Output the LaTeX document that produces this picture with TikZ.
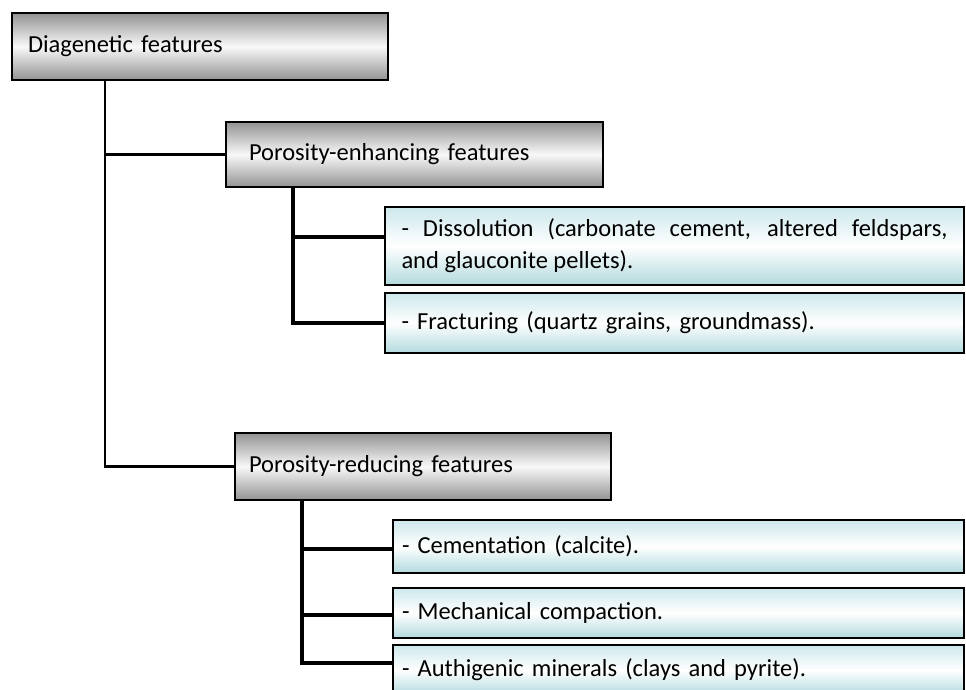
\documentclass[tikz,border=0pt]{standalone}
\usepackage{fontspec}
\setmainfont{Carlito}
\begin{document}
\begin{tikzpicture}[x=1pt,y=-1pt,
  graybox/.style={draw=black,line width=2.5pt,rectangle,inner ysep=0pt,align=left,
    top color=gray!85,bottom color=gray!85,middle color=white!95!gray,font=\fontsize{24.5}{30}\selectfont},
  bluebox/.style={draw=black,line width=2.5pt,rectangle,inner ysep=0pt,align=justify,
    top color={rgb,255:red,205;green,232;blue,236},bottom color={rgb,255:red,178;green,218;blue,222},
    middle color=white,font=\fontsize{24.5}{32}\selectfont},
  thinline/.style={line width=2.2pt},
  thickline/.style={line width=3.5pt}]
\useasboundingbox (0,0) rectangle (966,689);
% top box
\node[graybox,minimum width=376pt,minimum height=67pt,text width=344pt,inner xsep=16pt] (dia) at (200,46.5) {Diagenetic features};
\node[graybox,minimum width=377pt,minimum height=65pt,text width=331pt,inner xsep=23pt] (enh) at (414.5,154.5) {Porosity-enhancing features};
\node[graybox,minimum width=376pt,minimum height=67pt,text width=348pt,inner xsep=14pt] (red) at (423,466.5) {Porosity-reducing features};
% children
\node[bluebox,minimum width=579pt,minimum height=78pt,text width=546pt,inner xsep=16.5pt] (dis) at (674.5,246) {- Dissolution (carbonate cement, altered feldspars,\linebreak and glauconite pellets).};
\node[bluebox,minimum width=579pt,minimum height=60pt,text width=546pt,inner xsep=16.5pt,align=left] (fra) at (674.5,323) {- Fracturing (quartz grains, groundmass).};
\node[bluebox,minimum width=571pt,minimum height=53pt,text width=553pt,inner xsep=9pt,align=left] (cem) at (678.5,546.5) {- Cementation (calcite).};
\node[bluebox,minimum width=571pt,minimum height=50pt,text width=553pt,inner xsep=9pt,align=left] (mec) at (678.5,613) {- Mechanical compaction.};
\node[bluebox,minimum width=571pt,minimum height=50pt,text width=553pt,inner xsep=9pt,align=left] (aut) at (678.5,670) {- Authigenic minerals (clays and pyrite).};
% trunk coordinates
\coordinate (t1) at (105,0);
\coordinate (t2) at (293,0);
\coordinate (t3) at (302,0);
\draw[thinline] (dia.south -| t1) |- (enh.west);
\draw[thinline] (dia.south -| t1) |- (red.west);
\draw[thickline] (enh.south -| t2) |- ([yshift=9pt]dis.west);
\draw[thickline] (enh.south -| t2) |- (fra.west);
\draw[thickline] (red.south -| t3) |- ([yshift=-2.5pt]cem.west);
\draw[thickline] (red.south -| t3) |- ([yshift=-2pt]mec.west);
\draw[thickline] (red.south -| t3) |- ([yshift=7pt]aut.west);
\end{tikzpicture}
\end{document}
